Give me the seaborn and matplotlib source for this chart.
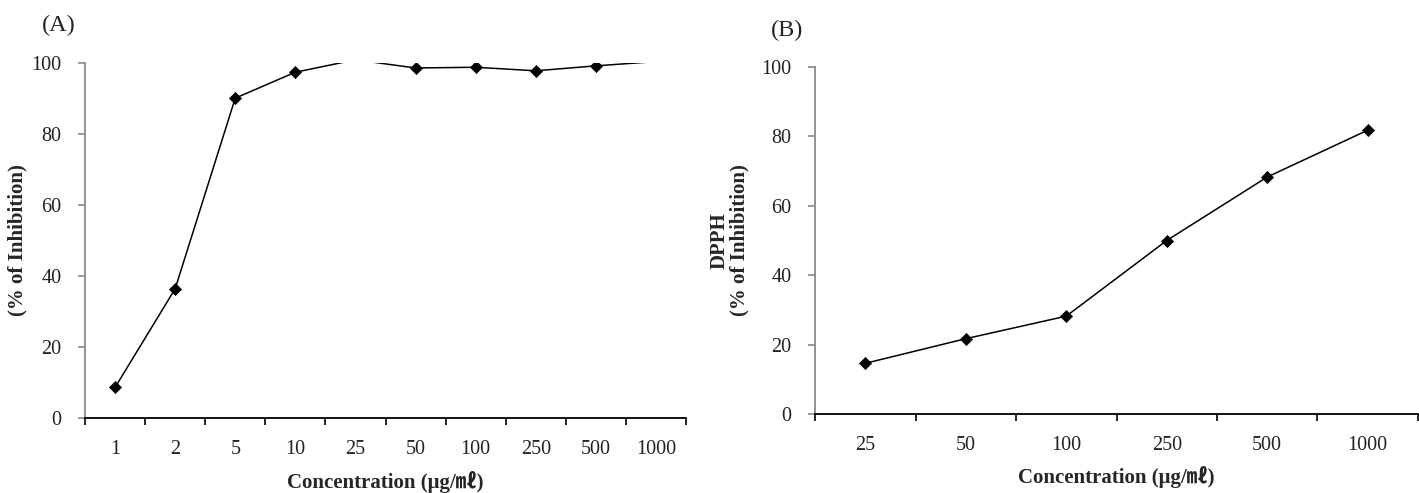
import numpy as np
import pandas as pd
import matplotlib
matplotlib.use('Agg')
import matplotlib.pyplot as plt
from matplotlib.ticker import FixedLocator, NullFormatter
import seaborn as sns

# panel A
conc_a = ['1', '2', '5', '10', '25', '50', '100', '250', '500', '1000']
inhib_a = [8.6, 36.4, 90.1, 97.4, 100.9, 98.6, 98.8, 97.8, 99.2, 100.4]

# panel B (DPPH)
conc_b = ['25', '50', '100', '250', '500', '1000']
inhib_b = [14.6, 21.7, 28.2, 50.0, 68.3, 81.8]

yticks = [0, 20, 40, 60, 80, 100]

sns.set_theme(style='white')
plt.rcParams['font.family'] = ['Liberation Serif', 'Noto Sans CJK KR']

W, H = 1419, 493
fig = plt.figure(figsize=(W / 100, H / 100), dpi=100)


def px_axes(x0, y0, x1, y1):
    return fig.add_axes([x0 / W, 1 - y1 / H, (x1 - x0) / W, (y1 - y0) / H])


def style_axes(ax, n):
    ax.set_ylim(0, 100)
    ax.set_xlim(-0.5, n - 0.5)
    ax.set_yticks(yticks)
    ax.set_xticks(range(n))
    ax.xaxis.set_minor_locator(FixedLocator(np.arange(-0.5, n, 1.0)))
    ax.xaxis.set_minor_formatter(NullFormatter())
    for s in ['top', 'right']:
        ax.spines[s].set_visible(False)
    ax.spines['left'].set_color('#8a8a8a')
    ax.spines['left'].set_linewidth(1.3)
    ax.spines['bottom'].set_color('black')
    ax.spines['bottom'].set_linewidth(1.3)
    ax.tick_params(axis='y', which='major', direction='out', length=5,
                   width=1.2, color='#8a8a8a', pad=12, labelsize=14.5,
                   labelcolor='#222222', left=True)
    ax.tick_params(axis='x', which='major', length=0, pad=16,
                   labelsize=14.5, labelcolor='#222222', bottom=True)
    ax.tick_params(axis='x', which='minor', direction='out', length=5,
                   width=1.2, color='black', bottom=True)
    ax.grid(False)


lab_font = dict(fontsize=15, fontweight='bold')
xlab = 'Concentration (μg/㎖)'

# (A)
axA = px_axes(85, 63, 686, 418)
sns.lineplot(x=conc_a, y=inhib_a, sort=False, color='black', linewidth=1.1, ax=axA)
in_a = [(c, v) for c, v in zip(conc_a, inhib_a) if v <= 100]
sns.scatterplot(x=[c for c, v in in_a], y=[v for c, v in in_a], marker='D',
                color='black', s=38, edgecolor='black', linewidth=0.5, ax=axA, zorder=3)
style_axes(axA, len(conc_a))
axA.set_xticklabels(conc_a)
axA.set_ylabel('(% of Inhibition)', **lab_font)
axA.yaxis.set_label_coords(-0.095, 0.5)
axA.set_xlabel(xlab, **lab_font)
axA.xaxis.set_label_coords(0.5, -0.148)

# (B)
axB = px_axes(815, 67, 1418, 414)
sns.lineplot(x=conc_b, y=inhib_b, sort=False, color='black', linewidth=1.1, ax=axB)
sns.scatterplot(x=conc_b, y=inhib_b, marker='D', color='black', s=38,
                edgecolor='black', linewidth=0.5, ax=axB, zorder=3)
style_axes(axB, len(conc_b))
axB.set_xticklabels(conc_b)
axB.set_ylabel('DPPH\n(% of Inhibition)', linespacing=1.0, **lab_font)
axB.yaxis.set_label_coords(-0.108, 0.5)
axB.set_xlabel(xlab, **lab_font)
axB.xaxis.set_label_coords(0.5, -0.15)

fig.text(59 / W, 1 - 25 / H, '(A)', ha='center', va='center', fontsize=17.5, color='#222222')
fig.text(787 / W, 1 - 30 / H, '(B)', ha='center', va='center', fontsize=17.5, color='#222222')

fig.savefig('out.png', dpi=100, facecolor='white')
